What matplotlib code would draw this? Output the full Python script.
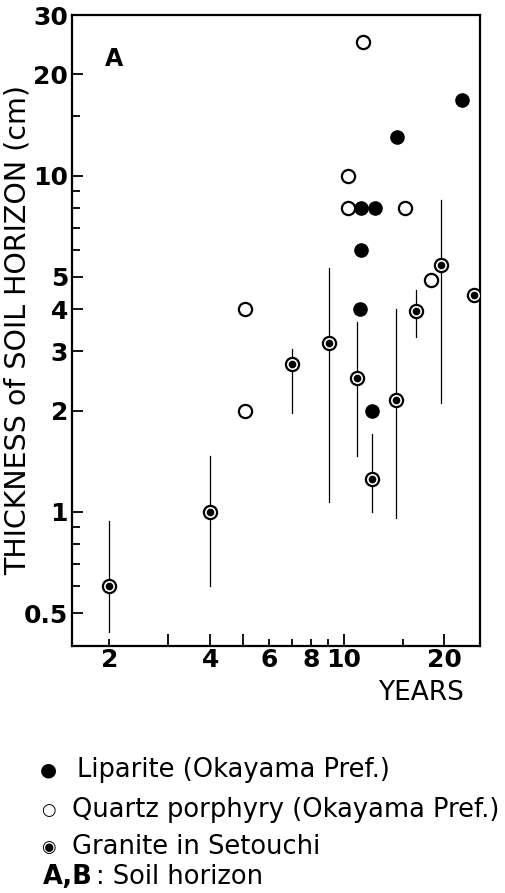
import matplotlib
matplotlib.use("Agg")
from matplotlib import pyplot as plt
from matplotlib.ticker import FixedLocator, FixedFormatter, NullFormatter

# Liparite (Okayama Pref.) - filled circles
lip_years = [22.6, 14.4, 11.3, 12.4, 11.3, 11.2, 12.2]
lip_thick = [16.8, 13.0, 8.0, 8.0, 6.0, 4.0, 2.0]

# Quartz porphyry (Okayama Pref.) - open circles
qp_years = [11.4, 10.3, 10.3, 15.3, 18.3, 5.07, 5.07]
qp_thick = [25.0, 10.0, 8.0, 8.0, 4.9, 4.0, 2.0]

# Granite in Setouchi - ringed dots with range lines
gr_years = [2.0, 4.0, 7.04, 9.08, 11.0, 12.16, 14.3, 16.5, 19.5, 24.5]
gr_thick = [0.60, 1.0, 2.75, 3.17, 2.50, 1.25, 2.15, 3.95, 5.41, 4.40]
gr_high = [0.94, 1.47, 3.05, 5.31, 3.66, 1.70, 4.00, 4.58, 8.48, None]
gr_low = [0.44, 0.60, 1.97, 1.07, 1.47, 1.00, 0.96, 3.32, 2.10, None]

y_major = [0.5, 1, 2, 3, 4, 5, 10, 20, 30]
y_minor = [0.6, 0.7, 0.8, 0.9, 6, 7, 8, 9, 15]
x_major = [3, 4, 5, 10, 20]
x_major_labels = ['', '4', '', '10', '20']
x_minor = [2, 6, 7, 8, 9, 15]
x_minor_labels = ['2', '6', '', '8', '', '']

legend_labels = ['Liparite (Okayama Pref.)',
                 'Quartz porphyry (Okayama Pref.)',
                 'Granite in Setouchi']

TICK_FONT = ['DejaVu Sans']

fig = plt.figure(figsize=(5.05, 8.93), dpi=100)
ax = fig.add_axes([0.143, 0.277, 0.807, 0.706])
ax.set_xscale('log')
ax.set_yscale('log')
ax.set_xlim(1.55, 25.5)
ax.set_ylim(0.4, 30)

# range lines for granite
for x, lo, hi in zip(gr_years, gr_low, gr_high):
    if lo is not None:
        ax.plot([x, x], [lo, hi], color='black', lw=0.9, zorder=1)

ax.plot(lip_years, lip_thick, 'o', ms=9.5, mfc='black', mec='black', zorder=3)
ax.plot(qp_years, qp_thick, 'o', ms=9.5, mfc='white', mec='black', mew=1.6, zorder=3)
ax.plot(gr_years, gr_thick, 'o', ms=9.5, mfc='white', mec='black', mew=1.6, zorder=3)
ax.plot(gr_years, gr_thick, 'o', ms=4.5, mfc='black', mec='black', zorder=4)

for s in ax.spines.values():
    s.set_linewidth(1.6)

ax.yaxis.set_major_locator(FixedLocator(y_major))
ax.yaxis.set_minor_locator(FixedLocator(y_minor))
ax.yaxis.set_major_formatter(FixedFormatter([('%g' % v) for v in y_major]))
ax.yaxis.set_minor_formatter(NullFormatter())
ax.xaxis.set_major_locator(FixedLocator(x_major))
ax.xaxis.set_minor_locator(FixedLocator(x_minor))
ax.xaxis.set_major_formatter(FixedFormatter(x_major_labels))
ax.xaxis.set_minor_formatter(FixedFormatter(x_minor_labels))

ax.tick_params(which='both', direction='in', width=1.3)
ax.tick_params(axis='y', which='major', length=8, pad=3)
ax.tick_params(axis='y', which='minor', length=6)
ax.tick_params(axis='x', which='major', length=9, pad=2)
ax.tick_params(axis='x', which='minor', length=5, pad=2)
for lab in (ax.get_xticklabels() + ax.get_xticklabels(minor=True)
            + ax.get_yticklabels()):
    lab.set_family(TICK_FONT)
    lab.set_fontsize(18)
    lab.set_weight('bold')

ax.set_ylabel('THICKNESS of SOIL HORIZON (cm)', fontsize=20.5)
ax.yaxis.set_label_coords(-0.1, 0.5)
ax.text(0.96, -0.055, 'YEARS', transform=ax.transAxes, ha='right', va='top',
        fontsize=19, family=TICK_FONT)
ax.text(0.08, 0.93, 'A', transform=ax.transAxes, ha='left', va='center',
        fontsize=17, weight='bold')

# legend drawn as text lines below the plot
fig.text(0.095, 1 - 770 / 893, '\u25cf', fontsize=14, ha='center', va='center')
fig.text(0.095, 1 - 810 / 893, '\u25cb', fontsize=12, ha='center', va='center')
fig.text(0.095, 1 - 847 / 893, '\u25c9', fontsize=12, ha='center', va='center')
ys = [770, 810, 847]
xs = [0.152, 0.142, 0.142]
for lab, yy, xx in zip(legend_labels, ys, xs):
    fig.text(xx, 1 - yy / 893, lab, fontsize=18.5, ha='left', va='center')
fig.text(0.085, 1 - 877 / 893, 'A,B', fontsize=18.5, ha='left', va='center', weight='bold')
fig.text(0.19, 1 - 877 / 893, ': Soil horizon', fontsize=18.5, ha='left', va='center')

fig.savefig('out.png', dpi=100)
